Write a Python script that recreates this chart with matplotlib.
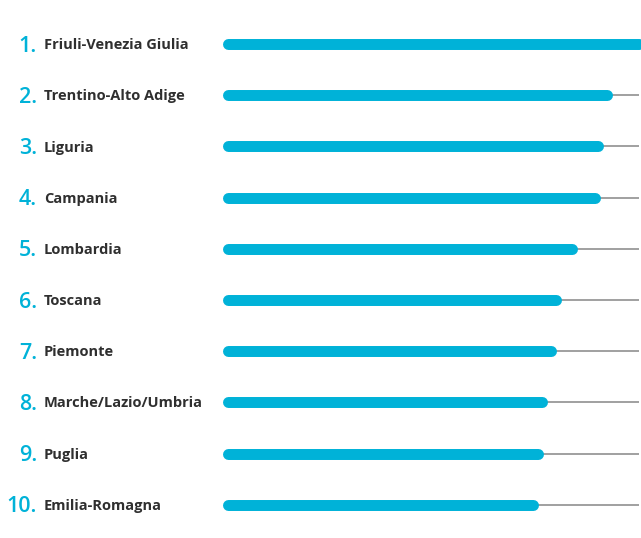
import numpy as np
import matplotlib
matplotlib.use("Agg")
import matplotlib.pyplot as plt
from matplotlib.transforms import blended_transform_factory

regions = ["Friuli-Venezia Giulia", "Trentino-Alto Adige", "Liguria", "Campania",
           "Lombardia", "Toscana", "Piemonte", "Marche/Lazio/Umbria", "Puglia",
           "Emilia-Romagna"]
ranks = ["1.", "2.", "3.", "4.", "5.", "6.", "7.", "8.", "9.", "10."]
scores = [100, 92.3, 90.1, 89.2, 83.8, 79.7, 78.5, 76.5, 75.5, 74.3]

cyan = "#00b2d8"
dark = "#2f2f2f"
grey = "#999999"

W, H = 641, 538
fig = plt.figure(figsize=(W / 100, H / 100), dpi=100)
ax = fig.add_axes([228 / W, 0, 411 / W, 1])
ax.set_xlim(0, 100)
ax.set_ylim(9.65, -0.86)
ax.axis("off")

y = np.arange(len(regions))
for i, v in enumerate(scores):
    ax.plot([0, 100], [i, i], color=grey, lw=1.3, solid_capstyle="butt", zorder=1)
    ax.plot([0, v], [i, i], color=cyan, lw=7.9, solid_capstyle="round",
            clip_on=False, zorder=2)

tr = blended_transform_factory(fig.transFigure, ax.transData)
for i in y:
    ax.text(37 / W, i + 0.15, ranks[i], transform=tr, ha="right", va="baseline",
            color=cyan, fontsize=15.5, family="Open Sans", fontweight="semibold")
    ax.text(44 / W, i + 0.1, regions[i], transform=tr, ha="left", va="baseline",
            color=dark, fontsize=10.5, family="Open Sans", fontweight="bold")

fig.savefig("out.png", dpi=100)
